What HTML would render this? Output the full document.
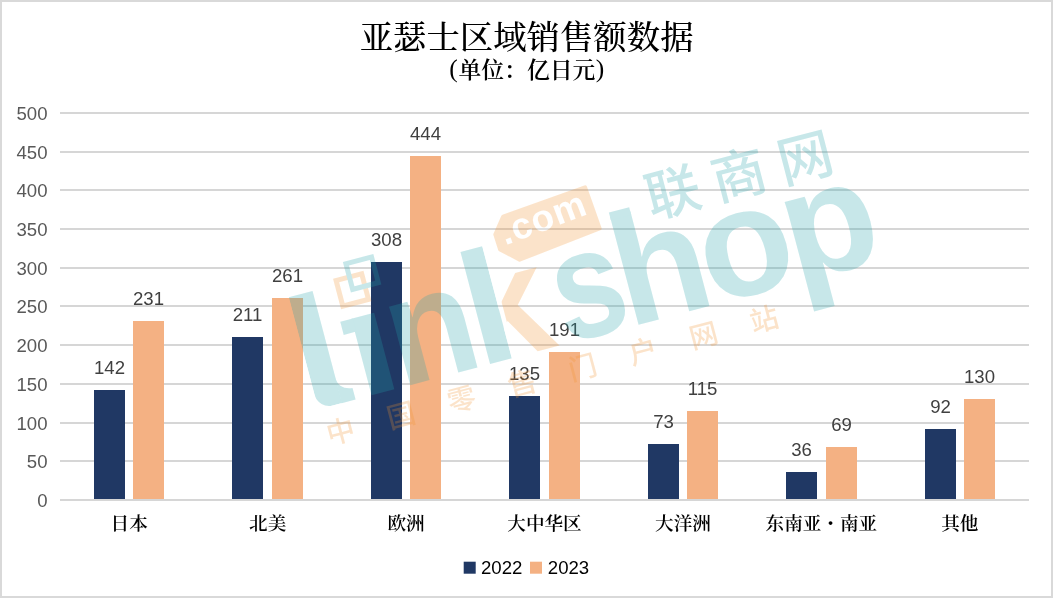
<!DOCTYPE html>
<html lang="zh-CN">
<head>
<meta charset="utf-8">
<title>亚瑟士区域销售额数据</title>
<style>
html,body{margin:0;padding:0;background:#fff;}
body{width:1054px;height:599px;overflow:hidden;position:relative;}
svg{display:block;position:absolute;left:0;top:0;will-change:transform;}
.sans{font-family:"Liberation Sans","Noto Sans CJK SC",sans-serif;}
.serif{font-family:"Liberation Serif","Noto Serif CJK SC",serif;}
.cjk{font-family:"Liberation Serif","Noto Serif CJK SC",serif;font-weight:600;}
</style>
</head>
<body>
<svg width="1054" height="599" viewBox="0 0 1054 599">

<rect x="0" y="0" width="1054" height="599" fill="#ffffff"/>
<rect x="1" y="1" width="1051" height="596" fill="none" stroke="#d9d9d9" stroke-width="2"/>
<text class="serif" x="526.6" y="48.6" font-size="33.4" font-weight="500" text-anchor="middle" fill="#000">亚瑟士区域销售额数据</text>
<text class="serif" x="449.3" y="77.8" font-size="22.85" font-weight="600" fill="#000"><tspan font-weight="400" font-size="25.5" dy="-0.6">(</tspan><tspan dx="0.6" dy="0.6">单位：亿日元</tspan><tspan font-weight="400" font-size="25.5" dx="0.2" dy="-0.6">)</tspan></text>
<rect x="60" y="499.00" width="969" height="2" fill="#d6d6d6"/>
<text class="sans" x="47.5" y="506.60" font-size="18.6" text-anchor="end" fill="#595959">0</text>
<rect x="60" y="460.00" width="969" height="2" fill="#d6d6d6"/>
<text class="sans" x="47.5" y="467.60" font-size="18.6" text-anchor="end" fill="#595959">50</text>
<rect x="60" y="422.00" width="969" height="2" fill="#d6d6d6"/>
<text class="sans" x="47.5" y="429.60" font-size="18.6" text-anchor="end" fill="#595959">100</text>
<rect x="60" y="383.00" width="969" height="2" fill="#d6d6d6"/>
<text class="sans" x="47.5" y="390.60" font-size="18.6" text-anchor="end" fill="#595959">150</text>
<rect x="60" y="344.00" width="969" height="2" fill="#d6d6d6"/>
<text class="sans" x="47.5" y="351.60" font-size="18.6" text-anchor="end" fill="#595959">200</text>
<rect x="60" y="305.00" width="969" height="2" fill="#d6d6d6"/>
<text class="sans" x="47.5" y="312.60" font-size="18.6" text-anchor="end" fill="#595959">250</text>
<rect x="60" y="267.00" width="969" height="2" fill="#d6d6d6"/>
<text class="sans" x="47.5" y="274.60" font-size="18.6" text-anchor="end" fill="#595959">300</text>
<rect x="60" y="228.00" width="969" height="2" fill="#d6d6d6"/>
<text class="sans" x="47.5" y="235.60" font-size="18.6" text-anchor="end" fill="#595959">350</text>
<rect x="60" y="189.00" width="969" height="2" fill="#d6d6d6"/>
<text class="sans" x="47.5" y="196.60" font-size="18.6" text-anchor="end" fill="#595959">400</text>
<rect x="60" y="151.00" width="969" height="2" fill="#d6d6d6"/>
<text class="sans" x="47.5" y="158.60" font-size="18.6" text-anchor="end" fill="#595959">450</text>
<rect x="60" y="112.00" width="969" height="2" fill="#d6d6d6"/>
<text class="sans" x="47.5" y="119.60" font-size="18.6" text-anchor="end" fill="#595959">500</text>
<rect x="94.00" y="390.00" width="31" height="109.00" fill="#203864"/>
<rect x="133.00" y="321.00" width="31" height="178.00" fill="#f4b183"/>
<text class="sans" x="109.50" y="374.30" font-size="18.6" text-anchor="middle" fill="#404040">142</text>
<text class="sans" x="148.50" y="305.30" font-size="18.6" text-anchor="middle" fill="#404040">231</text>
<text class="cjk" x="129.21" y="530" font-size="18.6" text-anchor="middle" fill="#000">日本</text>
<rect x="232.00" y="337.00" width="31" height="162.00" fill="#203864"/>
<rect x="272.00" y="298.00" width="31" height="201.00" fill="#f4b183"/>
<text class="sans" x="247.50" y="321.30" font-size="18.6" text-anchor="middle" fill="#404040">211</text>
<text class="sans" x="287.50" y="282.30" font-size="18.6" text-anchor="middle" fill="#404040">261</text>
<text class="cjk" x="267.64" y="530" font-size="18.6" text-anchor="middle" fill="#000">北美</text>
<rect x="371.00" y="262.00" width="31" height="237.00" fill="#203864"/>
<rect x="410.00" y="156.00" width="31" height="343.00" fill="#f4b183"/>
<text class="sans" x="386.50" y="246.30" font-size="18.6" text-anchor="middle" fill="#404040">308</text>
<text class="sans" x="425.50" y="140.30" font-size="18.6" text-anchor="middle" fill="#404040">444</text>
<text class="cjk" x="406.07" y="530" font-size="18.6" text-anchor="middle" fill="#000">欧洲</text>
<rect x="509.00" y="396.00" width="31" height="103.00" fill="#203864"/>
<rect x="549.00" y="352.00" width="31" height="147.00" fill="#f4b183"/>
<text class="sans" x="524.50" y="380.30" font-size="18.6" text-anchor="middle" fill="#404040">135</text>
<text class="sans" x="564.50" y="336.30" font-size="18.6" text-anchor="middle" fill="#404040">191</text>
<text class="cjk" x="544.50" y="530" font-size="18.6" text-anchor="middle" fill="#000">大中华区</text>
<rect x="648.00" y="444.00" width="31" height="55.00" fill="#203864"/>
<rect x="687.00" y="411.00" width="31" height="88.00" fill="#f4b183"/>
<text class="sans" x="663.50" y="428.30" font-size="18.6" text-anchor="middle" fill="#404040">73</text>
<text class="sans" x="702.50" y="395.30" font-size="18.6" text-anchor="middle" fill="#404040">115</text>
<text class="cjk" x="682.93" y="530" font-size="18.6" text-anchor="middle" fill="#000">大洋洲</text>
<rect x="786.00" y="472.00" width="31" height="27.00" fill="#203864"/>
<rect x="826.00" y="447.00" width="31" height="52.00" fill="#f4b183"/>
<text class="sans" x="801.50" y="456.30" font-size="18.6" text-anchor="middle" fill="#404040">36</text>
<text class="sans" x="841.50" y="431.30" font-size="18.6" text-anchor="middle" fill="#404040">69</text>
<text class="cjk" x="821.36" y="530" font-size="18.6" text-anchor="middle" fill="#000">东南亚・南亚</text>
<rect x="925.00" y="429.00" width="31" height="70.00" fill="#203864"/>
<rect x="964.00" y="399.00" width="31" height="100.00" fill="#f4b183"/>
<text class="sans" x="940.50" y="413.30" font-size="18.6" text-anchor="middle" fill="#404040">92</text>
<text class="sans" x="979.50" y="383.30" font-size="18.6" text-anchor="middle" fill="#404040">130</text>
<text class="cjk" x="959.79" y="530" font-size="18.6" text-anchor="middle" fill="#000">其他</text>
<rect x="463.7" y="561.7" width="12" height="12" fill="#203864"/>
<text class="sans" x="481" y="574" font-size="18.6" fill="#000">2022</text>
<rect x="530" y="561.7" width="12" height="12" fill="#f4b183"/>
<text class="sans" x="547.8" y="574" font-size="18.6" fill="#000">2023</text>
<g opacity="0.25" transform="translate(490,364) rotate(-14.8)">
<clipPath id="idot"><rect x="-400" y="-90" width="800" height="100"/></clipPath>
<clipPath id="lclip"><rect x="-177.5" y="-300" width="70" height="300" rx="15" ry="15"/></clipPath>
<g clip-path="url(#lclip)"><text font-family="Liberation Sans, sans-serif" font-weight="700" font-size="160.09" fill="#23a3ab" transform="translate(-190.02,0) scale(1.1200,1.0000)">l</text></g>
<path d="M -153.5,-28 C -153,-17 -147,-13 -139,-12 L -139,0 L -165,0 L -153.5,0 Z" fill="#23a3ab"/>
<g clip-path="url(#idot)"><text font-family="Liberation Sans, sans-serif" font-weight="700" font-size="154.00" fill="#23a3ab" transform="translate(-134.46,0) scale(1.1122,0.9710)">i</text></g>
<rect x="-134" y="-79" width="13" height="13.5" fill="#23a3ab"/>
<text font-family="Liberation Sans, sans-serif" font-weight="700" font-size="154.00" fill="#23a3ab" transform="translate(-92.55,0) scale(0.9413,1.0000)">n</text>
<clipPath id="kstem"><rect x="-2" y="-130" width="24.6" height="140"/></clipPath>
<clipPath id="karms"><rect x="27" y="-130" width="80" height="140"/></clipPath>
<g clip-path="url(#kstem)"><text font-family="Liberation Sans, sans-serif" font-weight="700" font-size="160.09" fill="#23a3ab" transform="translate(-11.45,0) scale(1.0244,1)">k</text></g>
<g clip-path="url(#karms)"><text font-family="Liberation Sans, sans-serif" font-weight="700" font-size="154.3" fill="#f3932f" transform="translate(-12.2,0) scale(0.9786,1)">k</text></g>
<text font-family="Liberation Sans, sans-serif" font-weight="700" font-size="154.00" fill="#23a3ab" transform="translate(78.45,0) scale(0.8387,1.0000)">s</text>
<text font-family="Liberation Sans, sans-serif" font-weight="700" font-size="154.00" fill="#23a3ab" transform="translate(142.92,0) scale(0.9937,1.0000)">h</text>
<rect x="153.60" y="-116" width="21.00" height="8" fill="#23a3ab"/>
<text font-family="Liberation Sans, sans-serif" font-weight="700" font-size="154.00" fill="#23a3ab" transform="translate(229.61,0) scale(0.9947,1.0000)">o</text>
<text font-family="Liberation Sans, sans-serif" font-weight="700" font-size="154.00" fill="#23a3ab" transform="translate(316.00,0) scale(1.0051,1.0000)">p</text>
<rect x="-127.5" y="-120.0" width="26.5" height="26.5" fill="none" stroke="#f3932f" stroke-width="5"/>
<rect x="-113.7" y="-133.7" width="26.5" height="26.5" fill="none" stroke="#23a3ab" stroke-width="5"/>
<polygon points="50.4,-139.2 137.0,-146.6 140.6,-103.0 55.3,-93.3 39.0,-108.2 38.2,-123.9" fill="#f3932f" stroke="#f3932f" stroke-width="4" stroke-linejoin="round"/>
<text font-family="Liberation Sans, sans-serif" font-weight="700" font-size="37" letter-spacing="0.9" fill="#ffffff" transform="translate(45,-110.8) rotate(-5.8)">.com</text>
<text font-family="Liberation Sans, Noto Sans CJK SC, sans-serif" font-weight="500" font-size="55" fill="#23a3ab" x="193.1" y="-99.5" letter-spacing="13.3" transform="rotate(0.2 193.1 -99.5)">联商网</text>
<text font-family="Liberation Sans, Noto Sans CJK SC, sans-serif" font-weight="500" font-size="28.4" fill="#f3932f" x="-175.9" y="37.3" letter-spacing="34.2">中国零售门户网站</text>
</g>
</svg>
</body>
</html>
